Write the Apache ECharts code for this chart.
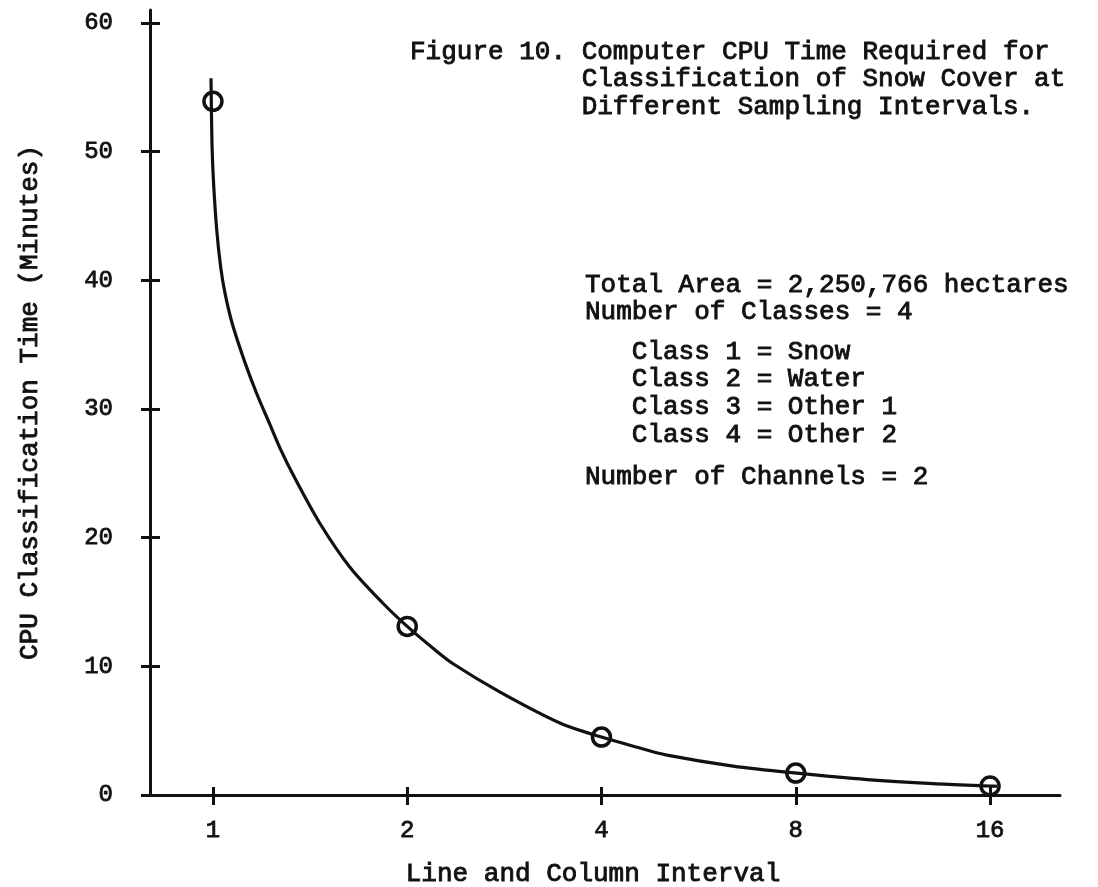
<!DOCTYPE html>
<html>
<head>
<meta charset="utf-8">
<script src="https://cdn.jsdelivr.net/npm/echarts@6/dist/echarts.min.js"></script>
<style>
  html, body { margin: 0; padding: 0; background: #fff; }
  #chart { width: 1098px; height: 887px; }
</style>
</head>
<body>
<div id="chart"></div>
<script>
// ---- data ----
const intervals = ['1', '2', '4', '8', '16'];            // x categories (line & column interval)
const cpuMinutes = [53.9, 13.1, 4.5, 1.7, 0.7];          // plotted circles
const yTicks = [0, 10, 20, 30, 40, 50, 60];
// traced fitted curve (position in interval steps, minutes)
const curveX = [-0.01, -0.005, 0.003, 0.019, 0.04, 0.062, 0.10, 0.165, 0.225, 0.293, 0.35, 0.412, 0.551, 0.705, 0.875, 1.0, 1.133, 1.236, 1.478, 1.786, 2.0, 2.198, 2.337, 2.677, 3.006, 3.367, 3.707, 4.0, 4.036];
const curveY = [55.7, 50.6, 47.6, 44.0, 41.0, 39.0, 36.6, 33.6, 31.2, 28.8, 26.8, 24.9, 21.1, 17.7, 14.9, 13.1, 11.4, 10.2, 8.0, 5.6, 4.5, 3.65, 3.1, 2.25, 1.7, 1.2, 0.88, 0.7, 0.68];

const captionLines = [
  'Figure 10. Computer CPU Time Required for',
  '           Classification of Snow Cover at',
  '           Different Sampling Intervals.'
];
const infoTop = ['Total Area = 2,250,766 hectares', 'Number of Classes = 4'];
const infoClasses = ['   Class 1 = Snow', '   Class 2 = Water', '   Class 3 = Other 1', '   Class 4 = Other 2'];
const infoBottom = ['Number of Channels = 2'];

const INK = '#111111';
const FONT = '"Liberation Mono", "Courier New", monospace';

const tickIdx = intervals.map((_, i) => i);

const textStyle = (size, lh) => ({
  fontFamily: FONT, fontSize: size, color: INK, fontWeight: 'normal',
  lineHeight: lh, textBorderColor: INK, textBorderWidth: 0.9
});

const chart = echarts.init(document.getElementById('chart'), null, { renderer: 'canvas' });

const xBase = {
  type: 'value', min: -0.324, max: 4.36, position: 'bottom',
  splitLine: { show: false }
};
const yBase = {
  type: 'value', min: 0, max: 61, position: 'left',
  splitLine: { show: false }
};

chart.setOption({
  backgroundColor: '#ffffff',
  animation: false,
  title: [
    { text: captionLines.join('\n'), left: 410, top: 38, padding: 0, textStyle: textStyle(26, 27.5) },
    { text: infoTop.join('\n'), left: 585, top: 271, padding: 0, textStyle: textStyle(26, 27.5) },
    { text: infoClasses.join('\n'), left: 585, top: 338, padding: 0, textStyle: textStyle(26, 27.7) },
    { text: infoBottom.join('\n'), left: 585, top: 463, padding: 0, textStyle: textStyle(26, 27.5) }
  ],
  grid: { left: 150, right: 38, top: 10, bottom: 92, containLabel: false, outerBoundsMode: 'none' },
  xAxis: [
    Object.assign({}, xBase, {
      name: 'Line and Column Interval',
      nameLocation: 'middle',
      nameGap: 66,
      nameTextStyle: Object.assign(textStyle(26, 26), { padding: [0, 24, 0, 0] }),
      axisLine: { show: true, onZero: false, lineStyle: { color: INK, width: 3 } },
      axisTick: { show: true, inside: false, length: 10, customValues: tickIdx, lineStyle: { color: INK, width: 3 } },
      axisLabel: {
        show: true, margin: 24, customValues: tickIdx,
        formatter: v => intervals[Math.round(v)],
        fontFamily: FONT, fontSize: 24, color: INK, textBorderColor: INK, textBorderWidth: 0.8
      }
    }),
    Object.assign({}, xBase, {
      axisLine: { show: false, onZero: false },
      axisTick: { show: true, inside: true, length: 8, customValues: tickIdx, lineStyle: { color: INK, width: 3 } },
      axisLabel: { show: false }
    })
  ],
  yAxis: [
    Object.assign({}, yBase, {
      name: 'CPU Classification Time (Minutes)',
      nameLocation: 'middle',
      nameGap: 107,
      nameRotate: 90,
      nameTextStyle: textStyle(26, 26),
      axisLine: { show: true, onZero: false, lineStyle: { color: INK, width: 3 } },
      axisTick: { show: true, inside: false, length: 9, customValues: yTicks, lineStyle: { color: INK, width: 3 } },
      axisLabel: {
        show: true, margin: 37, customValues: yTicks,
        fontFamily: FONT, fontSize: 24, color: INK, textBorderColor: INK, textBorderWidth: 0.8
      }
    }),
    Object.assign({}, yBase, {
      axisLine: { show: false, onZero: false },
      axisTick: { show: true, inside: true, length: 10, customValues: yTicks, lineStyle: { color: INK, width: 3 } },
      axisLabel: { show: false }
    })
  ],
  series: [
    {
      type: 'line',
      xAxisIndex: 0, yAxisIndex: 0,
      data: curveX.map((x, i) => [x, curveY[i]]),
      smooth: 0.3,
      showSymbol: false,
      symbol: 'none',
      lineStyle: { color: INK, width: 3.2 },
      z: 3
    },
    {
      type: 'scatter',
      xAxisIndex: 0, yAxisIndex: 0,
      data: cpuMinutes.map((v, i) => [i, v]),
      symbol: 'circle',
      symbolSize: 18,
      itemStyle: { color: 'rgba(255,255,255,0)', borderColor: INK, borderWidth: 3.5, opacity: 1 },
      z: 4
    }
  ]
});
</script>
</body>
</html>
